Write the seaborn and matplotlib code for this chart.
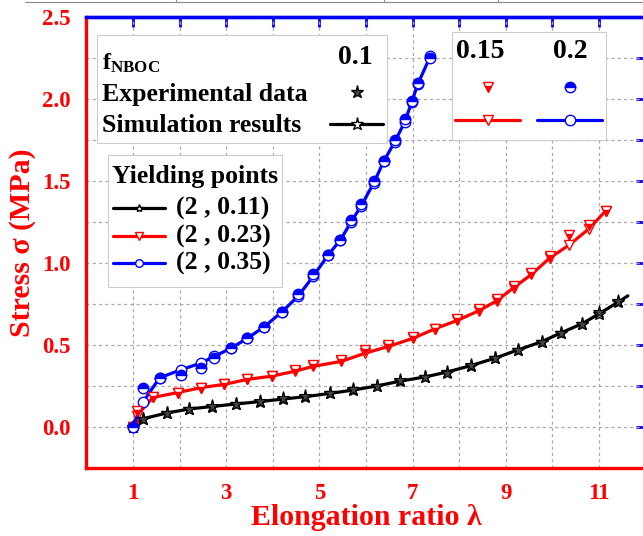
import numpy as np
import pandas as pd
import matplotlib
matplotlib.use("Agg")
import matplotlib.pyplot as plt
import seaborn as sns
from matplotlib.lines import Line2D
from matplotlib.patches import Rectangle
from matplotlib.ticker import MultipleLocator, NullFormatter

# ---------------- data ----------------
f_nboc = ["0.1", "0.15", "0.2"]
yield_labels = ["(2 , 0.11)", "(2 , 0.23)", "(2 , 0.35)"]

x_01 = [1, 1.21, 1.72, 2.21, 2.70, 3.2, 3.72, 4.21, 4.70, 5.23, 5.72, 6.23, 6.74, 7.26,
        7.74, 8.26, 8.77, 9.26, 9.77, 10.19, 10.64, 11.0, 11.4]
exp_01 = [0, 0.05, 0.085, 0.11, 0.13, 0.14, 0.16, 0.175, 0.19, 0.21, 0.23, 0.25, 0.285,
          0.305, 0.33, 0.38, 0.42, 0.47, 0.52, 0.575, 0.63, 0.70, 0.77]
sim_x_01 = [1, 1.21, 1.72, 2.21, 2.70, 3.2, 3.72, 4.21, 4.70, 5.23, 5.72, 6.23, 6.74, 7.26,
            7.74, 8.26, 8.77, 9.26, 9.77, 10.19, 10.64, 11.0, 11.4, 11.62]
sim_01 = [0, 0.05, 0.085, 0.11, 0.125, 0.14, 0.155, 0.17, 0.185, 0.205, 0.225, 0.25, 0.28,
          0.305, 0.335, 0.375, 0.42, 0.47, 0.52, 0.575, 0.63, 0.69, 0.76, 0.80]

x_015 = [1, 1.08, 1.43, 1.96, 2.46, 2.96, 3.45, 3.98, 4.47, 4.87, 5.47, 5.98, 6.47, 7.0,
         7.49, 7.96, 8.43, 8.81, 9.17, 9.55, 9.94, 10.36, 10.79, 11.15]
exp_015 = [0, 0.10, 0.18, 0.21, 0.24, 0.26, 0.29, 0.31, 0.35, 0.38, 0.41, 0.47, 0.50, 0.55,
           0.60, 0.66, 0.72, 0.78, 0.86, 0.94, 1.04, 1.17, 1.23, 1.32]
sim_015 = [0, 0.07, 0.18, 0.21, 0.24, 0.26, 0.29, 0.31, 0.34, 0.37, 0.40, 0.45, 0.49, 0.54,
           0.60, 0.65, 0.71, 0.77, 0.85, 0.93, 1.03, 1.11, 1.21, 1.32]

x_02 = [1, 1.21, 1.57, 2.04, 2.46, 2.74, 3.1, 3.45, 3.81, 4.19, 4.55, 4.87, 5.19, 5.45,
        5.68, 5.9, 6.17, 6.38, 6.62, 6.83, 6.98, 7.11, 7.38]
exp_02 = [0, 0.24, 0.30, 0.32, 0.36, 0.42, 0.48, 0.54, 0.61, 0.70, 0.81, 0.93, 1.05, 1.14,
          1.26, 1.36, 1.50, 1.62, 1.75, 1.88, 1.99, 2.10, 2.25]
sim_02 = [0, 0.15, 0.30, 0.35, 0.39, 0.43, 0.48, 0.54, 0.61, 0.70, 0.80, 0.92, 1.05, 1.14,
          1.25, 1.35, 1.49, 1.62, 1.74, 1.86, 1.98, 2.09, 2.26]

x_ticks = [1, 3, 5, 7, 9, 11]
y_ticks = [0.0, 0.5, 1.0, 1.5, 2.0, 2.5]

# ---------------- style ----------------
sns.set_style("white")
plt.rcParams["font.family"] = ["Liberation Serif", "DejaVu Serif"]
plt.rcParams["font.weight"] = "bold"
plt.rcParams["mathtext.fontset"] = "custom"
plt.rcParams["mathtext.rm"] = "Liberation Serif:bold"
plt.rcParams["mathtext.bf"] = "Liberation Serif:bold"
plt.rcParams["mathtext.it"] = "Liberation Serif:bold"

RED = "#ff0000"
BLUE = "#0000ff"
BLACK = "#000000"

W, H = 643, 536
fig = plt.figure(figsize=(W / 100, H / 100), dpi=100)
L, R, T, B = 86.4, 645.6, 17, 468
ax = fig.add_axes([L / W, (H - B) / H, (R - L) / W, (B - T) / H])

LW = 2.3
MS = 7.5

series = [
    (x_01, exp_01, sim_x_01, sim_01, BLACK, "*", 9.5),
    (x_015, exp_015, x_015, sim_015, RED, "v", MS),
    (x_02, exp_02, x_02, sim_02, BLUE, "o", MS),
]

for xe, ye, xs, ys, col, mk, ms in series:
    n_mark = len(xe)
    sns.lineplot(x=xs, y=ys, ax=ax, color=col, lw=LW, marker=mk, ms=ms,
                 markerfacecolor="white", markeredgecolor=col, mew=1.0,
                 markevery=list(range(n_mark)), estimator=None, sort=False, zorder=3)
    if mk == "*":
        sns.lineplot(x=xe, y=ye, ax=ax, color=col, lw=0, marker=mk, ms=ms,
                     markerfacecolor="#444444", markeredgecolor=col, mew=0.8,
                     estimator=None, sort=False, zorder=4)
    else:
        sns.lineplot(x=xe, y=ye, ax=ax, color=col, lw=0, marker=mk, ms=ms,
                     fillstyle="bottom" if mk == "v" else "top",
                     markerfacecolor=col, markerfacecoloralt="white",
                     markeredgecolor=col, mew=1.0,
                     estimator=None, sort=False, zorder=4)

ax.set_xlim(0, 12)
ax.set_ylim(-0.25, 2.5)

# grid
ax.xaxis.set_minor_locator(MultipleLocator(1))
ax.yaxis.set_minor_locator(MultipleLocator(0.25))
ax.set_xticks(x_ticks)
ax.set_yticks(y_ticks)
ax.set_xticklabels([str(v) for v in x_ticks])
ax.set_yticklabels([f"{v:.1f}" for v in y_ticks])
ax.grid(True, which="both", color="#aaaaaa", lw=0.9, ls=(0, (2.5, 2.5)))
ax.set_axisbelow(True)

# spines
for side, col in [("left", RED), ("bottom", RED), ("top", BLUE), ("right", BLUE)]:
    ax.spines[side].set_color(col)
    ax.spines[side].set_linewidth(2.4)
    ax.spines[side].set_visible(True)

ax.tick_params(axis="both", which="major", direction="out", length=7, width=2,
               colors=RED, labelsize=16.5, pad=4)
ax.tick_params(axis="both", which="minor", direction="out", length=4, width=2, colors=RED)
ax.tick_params(top=False, right=False, which="both")
for lab in ax.get_xticklabels() + ax.get_yticklabels():
    lab.set_fontweight("bold")
    lab.set_color(RED)

# top and right ticks (blue, inward)
secx = ax.secondary_xaxis("top")
secx.xaxis.set_major_locator(MultipleLocator(1))
secx.xaxis.set_major_formatter(NullFormatter())
secx.tick_params(direction="in", length=7, width=2, colors=BLUE)
secx.spines["top"].set_color(BLUE)
secx.spines["top"].set_linewidth(2.4)
secy = ax.secondary_yaxis("right")
secy.yaxis.set_major_locator(MultipleLocator(0.25))
secy.yaxis.set_major_formatter(NullFormatter())
secy.tick_params(direction="in", length=7, width=2, colors=BLUE)
secy.spines["right"].set_color(BLUE)
secy.spines["right"].set_linewidth(2.4)

ax.set_xlabel("Elongation ratio λ", fontsize=21.5, fontweight="bold", color=RED, labelpad=0)
ax.set_ylabel("Stress σ (MPa)", fontsize=21.5, fontweight="bold", color=RED, labelpad=5)

# ---------------- legends ----------------
def P(x, y):
    return ((x - L) / (R - L), (B - y) / (B - T))

def box(x0, y0, x1, y1):
    (a, b), (c, d) = P(x0, y1), P(x1, y0)
    ax.add_patch(Rectangle((a, b), c - a, d - b, transform=ax.transAxes,
                           facecolor="white", edgecolor="#cccccc", lw=0.8, zorder=6))

def txt(x, y, s, ha="left", size=18.5):
    ax.text(*P(x, y), s, transform=ax.transAxes, ha=ha, va="center",
            fontsize=size, fontweight="bold", color="black", zorder=7)

def handle(x0, x1, y, col, mk, ms, line=True, exp=False):
    (a, b), (c, _) = P(x0, y), P(x1, y)
    if line:
        ax.add_line(Line2D([a, c], [b, b], transform=ax.transAxes, color=col, lw=LW, zorder=7))
    m = ((a + c) / 2, b)
    if exp:
        if mk == "*":
            ax.add_line(Line2D([m[0]], [m[1]], transform=ax.transAxes, marker=mk, ms=ms,
                               markerfacecolor="#444444", markeredgecolor=col, lw=0, zorder=8))
        else:
            ax.add_line(Line2D([m[0]], [m[1]], transform=ax.transAxes, marker=mk, ms=ms,
                               fillstyle="bottom" if mk == "v" else "top",
                               markerfacecolor=col, markerfacecoloralt="white",
                               markeredgecolor=col, lw=0, zorder=8))
    else:
        ax.add_line(Line2D([m[0]], [m[1]], transform=ax.transAxes, marker=mk, ms=ms,
                           markerfacecolor="white", markeredgecolor=col, lw=0, zorder=8))

# legend 1
box(97, 35, 387, 143)
txt(102, 63, r"$\mathbf{f_{NBOC}}$", size=17.5)
txt(102, 95, "Experimental data")
txt(102, 125, "Simulation results")
txt(355, 57, f_nboc[0], ha="center", size=20)
handle(330, 383, 92, BLACK, "*", 9.5, line=False, exp=True)
handle(330, 383, 124, BLACK, "*", 9.5)

# legend 2
box(452, 32, 606, 140)
txt(480, 52, f_nboc[1], ha="center", size=20)
txt(570, 52, f_nboc[2], ha="center", size=20)
handle(455, 520, 87, RED, "v", MS, line=False, exp=True)
handle(537, 602, 87, BLUE, "o", MS, line=False, exp=True)
handle(455, 520, 120, RED, "v", MS)
handle(537, 602, 120, BLUE, "o", MS)

# legend 3 (yielding points)
box(108, 155, 282, 287)
txt(195, 176, "Yielding points", ha="center")
for (yy, col, mk, ms, lab) in [(208, BLACK, "*", 6, yield_labels[0]),
                               (236, RED, "v", 5.5, yield_labels[1]),
                               (263, BLUE, "o", 5.5, yield_labels[2])]:
    handle(113, 165, yy, col, mk, ms)
    txt(176, yy, lab)

# thin grey frame line at the very top (cropped from source)
fig.add_artist(Line2D([25 / W, 1], [1 - 2 / H, 1 - 2 / H], transform=fig.transFigure,
                      color="#888888", lw=0.8))
for xx in [176, 384, 498]:
    fig.add_artist(Line2D([xx / W, xx / W], [1 - 2 / H, 1], transform=fig.transFigure,
                          color="#888888", lw=0.8))

fig.savefig("out.png", dpi=100)
